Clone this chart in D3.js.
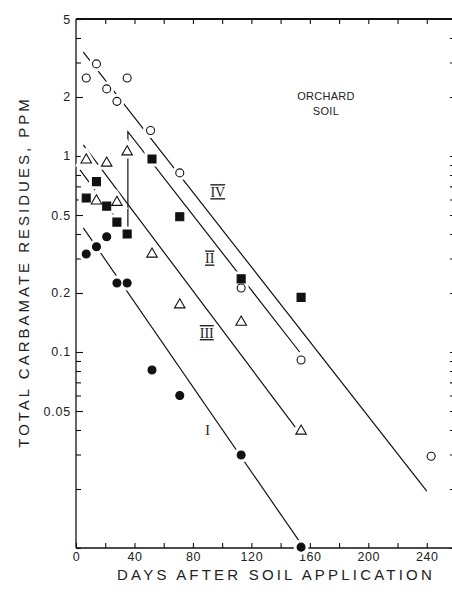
<!DOCTYPE html>
<html>
<head>
<meta charset="utf-8">
<script src="https://cdn.jsdelivr.net/npm/d3@7"></script>
<style>
  body { margin: 0; background: #fff; }
  svg text { font-family: "Liberation Sans", Arial, sans-serif; fill: #222; }
</style>
</head>
<body>
<div id="chart"></div>
<script>
// sampling days and residues (ppm)
const daysI   = [7, 14, 21, 28, 35, 52, 71, 113, 154];
const ppmI    = [0.316, 0.344, 0.387, 0.225, 0.225, 0.081, 0.060, 0.0298, 0.0101];
const daysII  = [7, 14, 21, 28, 35, 52, 71, 113, 154];
const ppmII   = [0.61, 0.74, 0.555, 0.46, 0.40, 0.965, 0.49, 0.236, 0.19];
const daysIII = [7, 14, 21, 28, 35, 52, 71, 113, 154];
const ppmIII  = [0.955, 0.59, 0.92, 0.58, 1.05, 0.316, 0.174, 0.142, 0.0395];
const daysIV  = [7, 14, 21, 28, 35, 51, 71, 113, 154, 243];
const ppmIV   = [2.5, 2.95, 2.2, 1.9, 2.5, 1.35, 0.82, 0.212, 0.091, 0.0294];

// fitted decline lines
const fitDaysI   = [5, 152.5];
const fitPpmI    = [0.43, 0.0109];
const fitDaysII  = [2.7, 35.5, 35.5, 153];
const fitPpmII   = [0.85, 0.40, 1.33, 0.10];
const fitDaysIII = [5, 150];
const fitPpmIII  = [1.14, 0.0414];
const fitDaysIV  = [5, 240];
const fitPpmIV   = [3.39, 0.0195];

const xTicks = [0, 40, 80, 120, 160, 200, 240];
const yTicks = [5, 2, 1, 0.5, 0.2, 0.1, 0.05];
const yTickLabels = ["5", "2", "1", "0.5", "0.2", "0.1", "0.05"];

const curveNames = ["I", "II", "III", "IV"];
const curveLabelDay = [90, 91.5, 89.5, 97];
const curveLabelPpm = [0.04, 0.30, 0.125, 0.654];

const W = 452, H = 592;
const margin = {top: 19, left: 76, right: -4, bottom: 44};

const svg = d3.select("#chart").append("svg")
  .attr("width", W).attr("height", H);

const x = d3.scaleLinear().domain([0, 260]).range([margin.left, W - margin.right]);
const y = d3.scaleLog().domain([0.01, 5]).range([H - margin.bottom, margin.top]);

const minorY = y.ticks().filter(v => !yTicks.some(t => Math.abs(t - v) < 1e-9) && v < 5);
const minorX = d3.range(0, 261, 20);

// frame lines
svg.append("line").attr("x1", x(0)).attr("x2", x(260)).attr("y1", y(5)).attr("y2", y(5))
  .attr("stroke", "#111").attr("stroke-width", 2);
svg.append("line").attr("x1", x(0)).attr("x2", x(260)).attr("y1", y(0.01)).attr("y2", y(0.01))
  .attr("stroke", "#111").attr("stroke-width", 1.5);
svg.append("line").attr("x1", x(0)).attr("x2", x(0)).attr("y1", y(5)).attr("y2", y(0.01))
  .attr("stroke", "#111").attr("stroke-width", 1.3);

// left axis: major + minor ticks pointing inward
svg.append("g")
  .attr("transform", "translate(" + x(0) + ",0)")
  .call(d3.axisLeft(y).tickValues(yTicks).tickSize(-7).tickPadding(5)
    .tickFormat((d, i) => yTickLabels[i]))
  .call(g => g.select(".domain").remove())
  .call(g => g.selectAll("text").attr("font-size", 12.5).attr("letter-spacing", 0.8));
svg.append("g")
  .attr("transform", "translate(" + x(0) + ",0)")
  .call(d3.axisLeft(y).tickValues(minorY).tickSize(-5).tickFormat(""))
  .call(g => g.select(".domain").remove());

// right edge ticks
svg.append("g")
  .attr("transform", "translate(" + x(260) + ",0)")
  .call(d3.axisRight(y).tickValues(y.ticks()).tickSize(-6).tickFormat(""))
  .call(g => g.select(".domain").remove());

// bottom axis
svg.append("g")
  .attr("transform", "translate(0," + y(0.01) + ")")
  .call(d3.axisBottom(x).tickValues(minorX).tickSize(-5).tickFormat(""))
  .call(g => g.select(".domain").remove());
svg.append("g")
  .attr("transform", "translate(0," + y(0.01) + ")")
  .call(d3.axisBottom(x).tickValues(xTicks).tickSize(0).tickPadding(4))
  .call(g => g.select(".domain").remove())
  .call(g => g.selectAll("text").attr("font-size", 12.5).attr("letter-spacing", 0.6));

// top axis ticks
svg.append("g")
  .attr("transform", "translate(0," + y(5) + ")")
  .call(d3.axisTop(x).tickValues(minorX.slice(1)).tickSize(-5).tickFormat(""))
  .call(g => g.select(".domain").remove());

svg.selectAll(".tick line").attr("stroke", "#111").attr("stroke-width", 1.1);

// axis titles
svg.append("text")
  .attr("x", 276).attr("y", 580)
  .attr("text-anchor", "middle")
  .attr("font-size", 15).attr("letter-spacing", 3.2)
  .text("DAYS AFTER SOIL APPLICATION");
svg.append("g").attr("opacity", 0.995)
  .append("text")
  .attr("transform", "translate(29,272) rotate(-90)")
  .attr("text-anchor", "middle")
  .attr("font-size", 15).attr("letter-spacing", 3.0)
  .text("TOTAL CARBAMATE RESIDUES, PPM");

svg.append("text").attr("x", 326).attr("y", 100).attr("text-anchor", "middle")
  .attr("font-size", 11).attr("letter-spacing", 0.3).text("ORCHARD");
svg.append("text").attr("x", 326).attr("y", 115).attr("text-anchor", "middle")
  .attr("font-size", 11).attr("letter-spacing", 0.3).text("SOIL");

// fitted lines
const line = d3.line().x(d => x(d[0])).y(d => y(d[1]));
const fits = [
  d3.zip(fitDaysI, fitPpmI),
  d3.zip(fitDaysII, fitPpmII),
  d3.zip(fitDaysIII, fitPpmIII),
  d3.zip(fitDaysIV, fitPpmIV)
];
svg.append("g").selectAll("path")
  .data(fits)
  .enter()
  .append("path")
  .attr("d", line)
  .attr("fill", "none")
  .attr("stroke", "#111")
  .attr("stroke-width", 1.2);

// markers
const symCircle = d3.symbol().type(d3.symbolCircle).size(50);
const symSquare = d3.symbol().type(d3.symbolSquare).size(64);
const symTri = d3.symbol().type(d3.symbolTriangle).size(48);

const series = [
  {pts: d3.zip(daysI, ppmI), sym: symCircle, fill: "#111"},
  {pts: d3.zip(daysII, ppmII), sym: symSquare, fill: "#111"},
  {pts: d3.zip(daysIII, ppmIII), sym: symTri, fill: "#fff"},
  {pts: d3.zip(daysIV, ppmIV), sym: symCircle, fill: "#fff"}
];

// white halo so the lines break around the points
series.forEach(s => {
  svg.append("g").selectAll("path")
    .data(s.pts)
    .enter()
    .append("path")
    .attr("transform", d => "translate(" + x(d[0]) + "," + y(d[1]) + ")")
    .attr("d", s.sym())
    .attr("fill", "#fff")
    .attr("stroke", "#fff")
    .attr("stroke-width", 7);
});
series.forEach(s => {
  svg.append("g").selectAll("path")
    .data(s.pts)
    .enter()
    .append("path")
    .attr("transform", d => "translate(" + x(d[0]) + "," + y(d[1]) + ")")
    .attr("d", s.sym())
    .attr("fill", s.fill)
    .attr("stroke", "#111")
    .attr("stroke-width", 1.1);
});

// curve labels
svg.append("g").selectAll("text")
  .data(curveNames)
  .enter()
  .append("text")
  .attr("x", (d, i) => x(curveLabelDay[i]))
  .attr("y", (d, i) => y(curveLabelPpm[i]) + 5)
  .attr("text-anchor", "middle")
  .style("font-family", "'Liberation Serif', serif")
  .attr("font-size", 14)
  .style("text-decoration", d => d === "I" ? "none" : "underline overline")
  .text(d => d);
</script>
</body>
</html>
